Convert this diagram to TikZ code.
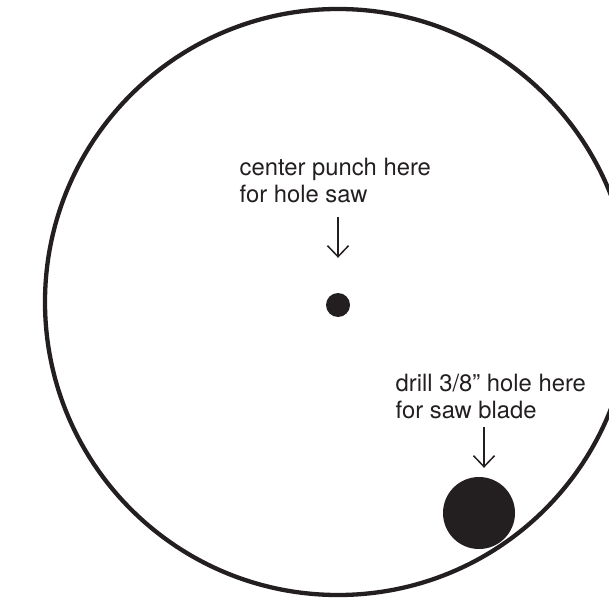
\documentclass[tikz,border=0pt]{standalone}
\usepackage{fontspec}
\setmainfont{TeX Gyre Heros}
\usepackage{xcolor}
\usepackage{tikz}
\usetikzlibrary{positioning,arrows.meta,calc}
\definecolor{ink}{HTML}{231F20}

\begin{document}
\begin{tikzpicture}[
  x=1pt, y=-1pt,
  rim/.style={draw=ink, line width=4.3pt},
  hole/.style={circle, fill=ink, inner sep=0pt},
  note/.style={align=left, anchor=base west, inner sep=0pt, text=ink,
    font=\fontsize{23.8}{27}\selectfont},
  pointer/.style={draw=ink, line width=1.5pt, -{Straight Barb[length=11pt,width=21pt]}}
]
\useasboundingbox (0,0) rectangle (609,601);

% blank disc
\draw[rim] (338,302) circle[radius=293];

% holes
\node[hole, minimum size=24pt] (punch) at (338,305) {};
\node[hole, minimum size=72pt] (drill) at (479,513) {};

% labels (base = last line)
\node[note] (punchtext) at (239.5,203) {center punch here\\for hole saw};
\node[note] (drilltext) at (395.5,418) {drill 3/8” hole here\\for saw blade};

\coordinate (punchtail) at (338,217);
\coordinate (drilltail) at (484,427);
\draw[pointer] (punchtail) -- ([yshift=35pt]punch.north);
\draw[pointer] (drilltail) -- ([xshift=5pt,yshift=9pt]drill.north);
\end{tikzpicture}
\end{document}
